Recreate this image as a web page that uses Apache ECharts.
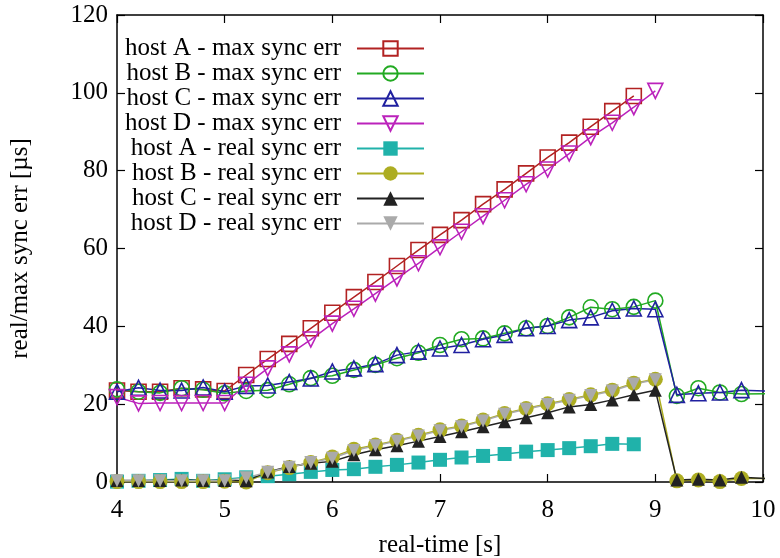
<!DOCTYPE html>
<html>
<head>
<meta charset="utf-8">
<title>sync err</title>
<script src="https://cdn.jsdelivr.net/npm/echarts@6/dist/echarts.min.js"></script>
<style>
  html, body { margin: 0; padding: 0; background: #fff; }
  #chart { width: 780px; height: 558px; }
</style>
</head>
<body>
<div id="chart"></div>
<script>
// real-time [s], one sample every 0.2 s (the last one is past the right edge)
var xs = [4.0, 4.2, 4.4, 4.6, 4.8, 5.0, 5.2, 5.4, 5.6, 5.8, 6.0, 6.2, 6.4, 6.6, 6.8,
          7.0, 7.2, 7.4, 7.6, 7.8, 8.0, 8.2, 8.4, 8.6, 8.8, 9.0, 9.2, 9.4, 9.6, 9.8, 10.2];

// max sync err [us]
var maxA = [23.5, 23.2, 23.2, 24.1, 23.8, 23.4, 27.5, 31.6, 35.5, 39.5, 43.5, 47.5, 51.4, 55.5, 59.6,
            63.5, 67.3, 71.4, 75.2, 79.3, 83.4, 87.2, 91.3, 95.3, 99.2, null, null, null, null, null, null];
var maxB = [23.8, 23.2, 22.9, 24.1, 23.7, 22.8, 23.4, 23.6, 25.1, 26.7, 27.3, 28.8, 30.1, 31.8, 33.2,
            35.2, 36.7, 36.9, 38.2, 39.5, 40.1, 42.3, 44.9, 44.4, 45.0, 46.6, 22.1, 24.1, 23.0, 22.6, 22.7];
var maxC = [23.2, 24.2, 23.5, 23.5, 24.3, 23.2, 24.7, 24.8, 25.7, 26.6, 28.4, 29.2, 30.3, 32.6, 33.5,
            34.3, 35.2, 36.7, 37.8, 39.5, 40.1, 41.6, 42.3, 44.0, 44.6, 44.4, 22.4, 22.8, 23.0, 23.6, 23.2];
var maxD = [21.8, 20.2, 20.3, 20.3, 20.3, 20.3, 25.0, 29.2, 32.8, 36.6, 40.7, 44.5, 48.4, 52.3, 56.2,
            60.3, 64.3, 68.3, 72.4, 76.5, 80.3, 84.4, 88.6, 92.3, 96.3, 100.5, null, null, null, null, null];

// real sync err [us]
var realA = [0.1, 0.3, 0.5, 0.8, 0.3, 0.7, 1.2, 1.5, 2.0, 2.6, 3.1, 3.3, 3.9, 4.4, 5.0,
             5.7, 6.3, 6.7, 7.2, 7.8, 8.2, 8.7, 9.2, 9.8, 9.7, null, null, null, null, null, null];
var realB = [0.1, 0.1, 0.1, 0.1, 0.1, 0.2, 0.0, 2.4, 3.7, 5.0, 6.4, 8.4, 9.5, 10.7, 12.0,
             13.4, 14.4, 15.9, 17.6, 18.9, 20.1, 21.2, 22.4, 23.6, 25.4, 26.4, 0.3, 0.5, 0.1, 0.9, 0.9];
var realC = [0.4, 0.4, 0.4, 0.5, 0.4, 0.4, 0.3, 2.6, 4.0, 4.8, 5.3, 7.0, 8.3, 9.3, 10.5,
             11.7, 12.9, 14.2, 15.5, 16.5, 17.8, 19.3, 19.9, 21.1, 22.4, 23.6, 0.5, 0.7, 0.5, 1.2, 0.6];
var realD = [0.3, 0.3, 0.3, 0.3, 0.3, 0.3, 1.1, 2.5, 3.8, 5.0, 6.1, 8.1, 9.3, 10.5, 11.8,
             13.2, 14.2, 15.7, 17.4, 18.7, 19.9, 21.0, 22.2, 23.4, 25.2, 26.3, null, null, null, null, null];

var FONT = '"Liberation Serif", "Times New Roman", serif';
var FS = 25;
var DOWN = 'path://M0,0L2,0L1,2Z';

function pairs(vals) {
    var out = [];
    for (var i = 0; i < xs.length; i++) {
        if (vals[i] != null) out.push([xs[i], vals[i]]);
    }
    return out;
}

// open markers let the line show through, like gnuplot's hollow points
function makeSeries(name, vals, color, symbol, size, open) {
    return {
        name: name,
        type: 'line',
        data: pairs(vals),
        symbol: symbol,
        symbolSize: size,
        showSymbol: true,
        lineStyle: { color: color, width: 1.5 },
        itemStyle: open
            ? { color: 'transparent', borderColor: color, borderWidth: 1.6 }
            : { color: color, borderWidth: 0 },
        emphasis: { disabled: true },
        clip: true
    };
}

function axisBase() {
    return {
        type: 'value',
        axisLine: { show: true, onZero: false, lineStyle: { color: '#000', width: 1.5 } },
        axisTick: { show: true, inside: true, length: 8, lineStyle: { color: '#000', width: 1.2 } },
        splitLine: { show: false },
        axisLabel: { fontFamily: FONT, fontSize: FS, color: '#000' }
    };
}

var xBottom = axisBase();
xBottom.min = 4; xBottom.max = 10; xBottom.interval = 1; xBottom.position = 'bottom';
xBottom.axisLabel.margin = 16;
xBottom.name = 'real-time [s]';
xBottom.nameLocation = 'middle';
xBottom.nameGap = 51;
xBottom.nameTextStyle = { fontFamily: FONT, fontSize: FS, color: '#000' };

var xTop = axisBase();
xTop.min = 4; xTop.max = 10; xTop.interval = 1; xTop.position = 'top';
xTop.axisLabel = { show: false };

var yLeft = axisBase();
yLeft.min = 0; yLeft.max = 120; yLeft.interval = 20; yLeft.position = 'left';
yLeft.axisLabel.margin = 9;
yLeft.name = 'real/max sync err [\u00b5s]';
yLeft.nameLocation = 'middle';
yLeft.nameGap = 84;
yLeft.nameTextStyle = { fontFamily: FONT, fontSize: FS, color: '#000' };

var yRight = axisBase();
yRight.min = 0; yRight.max = 120; yRight.interval = 20; yRight.position = 'right';
yRight.axisLabel = { show: false };

var chart = echarts.init(document.getElementById('chart'));
chart.setOption({
    animation: false,
    backgroundColor: '#fff',
    grid: { left: 117, right: 17, top: 15, bottom: 76, containLabel: false, outerBoundsMode: 'none' },
    xAxis: [xBottom, xTop],
    yAxis: [yLeft, yRight],
    legend: {
        orient: 'vertical',
        right: 355,
        top: 36,
        padding: 0,
        align: 'right',
        itemWidth: 67,
        itemHeight: 18,
        itemGap: 0,
        selectedMode: false,
        textStyle: { fontFamily: FONT, fontSize: FS, color: '#000', lineHeight: 25, padding: [0, 11, 0, 0] }
    },
    series: [
        makeSeries('host A - max sync err', maxA, '#b22222', 'rect', 15, true),
        makeSeries('host B - max sync err', maxB, '#22aa22', 'circle', 15, true),
        makeSeries('host C - max sync err', maxC, '#2020a0', 'triangle', 15, true),
        makeSeries('host D - max sync err', maxD, '#bb22bb', DOWN, 15, true),
        makeSeries('host A - real sync err', realA, '#20b2aa', 'rect', 14, false),
        makeSeries('host B - real sync err', realB, '#adad22', 'circle', 15, false),
        makeSeries('host C - real sync err', realC, '#222222', 'triangle', 13, false),
        makeSeries('host D - real sync err', realD, '#aaaaaa', DOWN, 13, false)
    ]
});
</script>
</body>
</html>
